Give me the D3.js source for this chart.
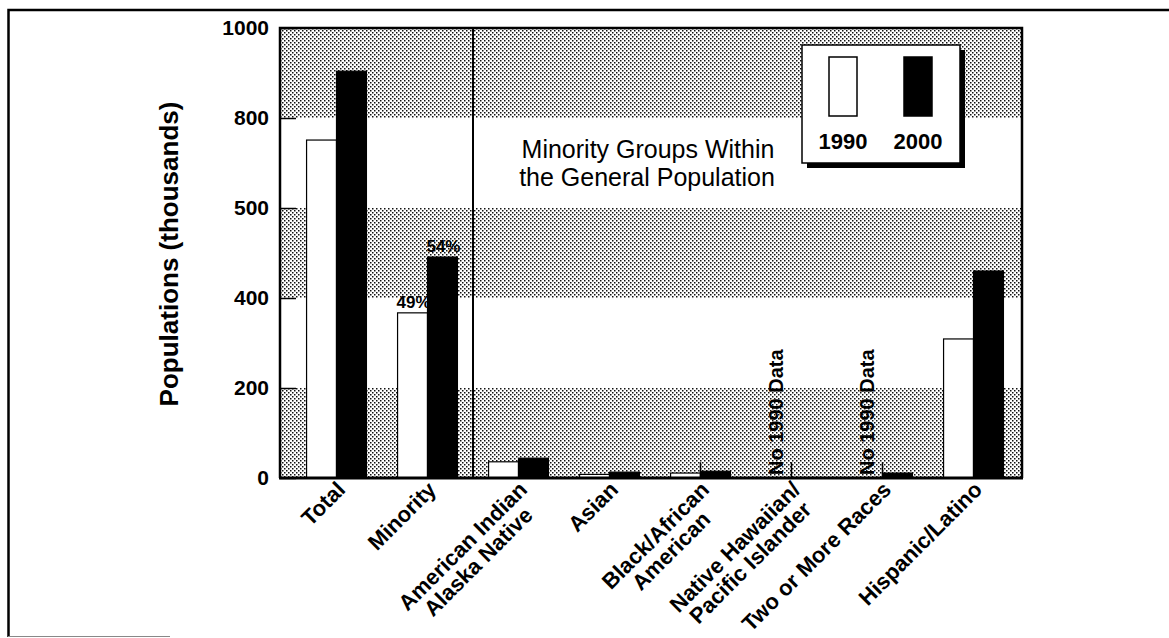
<!DOCTYPE html>
<html>
<head>
<meta charset="utf-8">
<script src="https://cdn.jsdelivr.net/npm/d3@7"></script>
<style>
  body { margin: 0; background: #fff; }
  text { font-family: "Liberation Sans", Arial, Helvetica, sans-serif; }
</style>
</head>
<body>
<div id="chart-area"></div>
<script>
// data (thousands)
const categories = ["Total", "Minority", "American Indian Alaska Native", "Asian",
  "Black/African American", "Native Hawaiian/Pacific Islander", "Two or More Races", "Hispanic/Latino"];
const categoryLines = [["Total"], ["Minority"], ["American Indian", "Alaska Native"], ["Asian"],
  ["Black/African", "American"], ["Native Hawaiian/", "Pacific Islander"], ["Two or More Races"], ["Hispanic/Latino"]];
const seriesNames = ["1990", "2000"];
const values1990 = [751, 367, 36, 8, 11, null, null, 309];
const values2000 = [904, 491, 44, 13, 15, 1, 11, 460];
const yTicks = [0, 200, 400, 600, 800, 1000];
const yTickLabels = ["0", "200", "400", "500", "800", "1000"];
const shadedBands = [[0, 200], [400, 600], [800, 1000]];
const pctLabels = [{ cat: "Minority", series: "1990", text: "49%" }, { cat: "Minority", series: "2000", text: "54%" }];
const noDataCats = ["Native Hawaiian/Pacific Islander", "Two or More Races"];
const markerCats = ["Black/African American", "Native Hawaiian/Pacific Islander", "Two or More Races"];
const markerValue = 35;

const W = 1169, H = 638;
const MARGIN = { LEFT: 280, TOP: 28, RIGHT: 147, BOTTOM: 160 };
const WIDTH = W - MARGIN.LEFT - MARGIN.RIGHT;
const HEIGHT = H - MARGIN.TOP - MARGIN.BOTTOM;

const rows = categories.map((c, i) => ({ k: c, lines: categoryLines[i], v: { "1990": values1990[i], "2000": values2000[i] } }));

const svg = d3.select("#chart-area").append("svg")
  .attr("width", W).attr("height", H);

// halftone dot pattern for the shaded bands
const pat = svg.append("defs").append("pattern")
  .attr("id", "dots").attr("patternUnits", "userSpaceOnUse")
  .attr("width", 4).attr("height", 4);
pat.append("rect").attr("width", 4).attr("height", 4).attr("fill", "#fff");
pat.append("rect").attr("x", 0).attr("y", 0).attr("width", 1.5).attr("height", 1.5).attr("fill", "#111");
pat.append("rect").attr("x", 2).attr("y", 2).attr("width", 1.5).attr("height", 1.5).attr("fill", "#111");

// page frame
svg.append("path")
  .attr("d", `M8.5,637 V10 H${W}`)
  .attr("fill", "none").attr("stroke", "#000").attr("stroke-width", 2.5);
svg.append("line")
  .attr("x1", 8).attr("x2", 170).attr("y1", 636.5).attr("y2", 636.5)
  .attr("stroke", "#888").attr("stroke-width", 1);

const g = svg.append("g").attr("transform", `translate(${MARGIN.LEFT}, ${MARGIN.TOP})`);

const y = d3.scaleLinear().domain([0, 1000]).range([HEIGHT, 0]);
const x = d3.scaleBand().domain(categories).range([11, 739]).paddingInner(0).paddingOuter(0);
const x1 = d3.scaleBand().domain(seriesNames).range([0, x.bandwidth()]).paddingInner(0).paddingOuter(0.52);
const fills = { "1990": "#fff", "2000": "#000" };

// shaded bands
g.selectAll("rect.band").data(shadedBands).enter().append("rect")
  .attr("class", "band")
  .attr("x", 0).attr("width", WIDTH)
  .attr("y", d => y(d[1])).attr("height", d => y(d[0]) - y(d[1]))
  .attr("fill", "url(#dots)");

// y axis with inward ticks
const yAxis = g.append("g").attr("class", "y-axis")
  .call(d3.axisLeft(y).tickValues(yTicks).tickFormat((d, i) => yTickLabels[i])
    .tickSizeInner(-16).tickSizeOuter(0).tickPadding(11));
yAxis.select(".domain").remove();
yAxis.selectAll(".tick line").attr("stroke", "#000").attr("stroke-width", 1.5);
yAxis.selectAll(".tick text")
  .attr("font-size", "21px").attr("font-weight", "bold").attr("fill", "#000");

// bars
const groups = g.selectAll("g.cat").data(rows).enter().append("g")
  .attr("class", "cat")
  .attr("transform", d => `translate(${x(d.k)},0)`);
groups.selectAll("rect").data(d => seriesNames.filter(s => d.v[s] != null).map(s => ({ s, v: d.v[s] })))
  .enter().append("rect")
  .attr("x", d => x1(d.s)).attr("width", x1.bandwidth())
  .attr("y", d => y(d.v)).attr("height", d => y(0) - y(d.v))
  .attr("fill", d => fills[d.s]).attr("stroke", "#000").attr("stroke-width", 1.2);

// small vertical markers
g.selectAll("line.marker").data(markerCats).enter().append("line")
  .attr("x1", d => x(d) + x.bandwidth() / 2).attr("x2", d => x(d) + x.bandwidth() / 2)
  .attr("y1", y(0)).attr("y2", y(markerValue))
  .attr("stroke", "#000").attr("stroke-width", 1.5);

// "No 1990 Data" notes
g.selectAll("text.nodata").data(noDataCats).enter().append("text")
  .attr("transform", d => `translate(${x(d) + x1("1990") + x1.bandwidth() * 0.7},${y(0) - 3}) rotate(-90)`)
  .attr("font-size", "20px").attr("font-weight", "bold")
  .text("No 1990 Data");

// percentage labels
g.selectAll("text.pct").data(pctLabels).enter().append("text")
  .attr("x", d => x(d.cat) + x1(d.series) + x1.bandwidth() / 2 + 1)
  .attr("y", d => y(rows.find(r => r.k === d.cat).v[d.series]) - 5)
  .attr("text-anchor", "middle").attr("font-size", "17px").attr("font-weight", "bold")
  .text(d => d.text);

// separator between totals and minority groups
g.append("line")
  .attr("x1", x(categories[2])).attr("x2", x(categories[2]))
  .attr("y1", 0).attr("y2", HEIGHT)
  .attr("stroke", "#000").attr("stroke-width", 2);

// plot frame
g.append("path")
  .attr("d", `M0,${HEIGHT} V0 H${WIDTH} V${HEIGHT}`)
  .attr("fill", "none").attr("stroke", "#000").attr("stroke-width", 2.5);
g.append("line")
  .attr("x1", -1).attr("x2", WIDTH + 1).attr("y1", HEIGHT).attr("y2", HEIGHT)
  .attr("stroke", "#000").attr("stroke-width", 3);

// x labels, rotated
const xl = g.selectAll("text.xlab").data(rows).enter().append("text")
  .attr("class", "xlab")
  .attr("transform", d => `translate(${x(d.k) + x.bandwidth() / 2 + 10},${HEIGHT + 13}) rotate(-45)`)
  .attr("font-size", "22px").attr("font-weight", "bold");
xl.each(function (d) {
  const t = d3.select(this);
  const first = t.append("tspan").attr("x", 0).text(d.lines[0]);
  const w = first.node().getComputedTextLength();
  first.attr("x", -w / 2).attr("text-anchor", "middle");
  d.lines.slice(1).forEach(line => {
    t.append("tspan").attr("x", -w / 2).attr("dy", "1.0em").attr("text-anchor", "middle").text(line);
  });
});

// y label
g.append("text")
  .attr("transform", `translate(${178 - MARGIN.LEFT},${HEIGHT / 2 + 1}) rotate(-90)`)
  .attr("text-anchor", "middle").attr("font-size", "26px").attr("font-weight", "bold")
  .text("Populations (thousands)");

// annotation
const note = g.append("text").attr("text-anchor", "middle").attr("font-size", "25px");
note.append("tspan").attr("x", 648 - MARGIN.LEFT).attr("y", 158 - MARGIN.TOP).text("Minority Groups Within");
note.append("tspan").attr("x", 647 - MARGIN.LEFT).attr("y", 186 - MARGIN.TOP).text("the General Population");

// legend with drop shadow
const lg = svg.append("g").attr("transform", "translate(802,45)");
lg.append("rect").attr("x", 5).attr("y", 5).attr("width", 158).attr("height", 118).attr("fill", "#000");
lg.append("rect").attr("width", 158).attr("height", 118).attr("fill", "#fff")
  .attr("stroke", "#000").attr("stroke-width", 1.5);
const lx = d3.scalePoint().domain(seriesNames).range([41, 116]);
lg.selectAll("rect.sw").data(seriesNames).enter().append("rect")
  .attr("x", d => lx(d) - 14).attr("y", 12).attr("width", 28).attr("height", 59)
  .attr("fill", d => fills[d]).attr("stroke", "#000").attr("stroke-width", 1.5);
lg.selectAll("text.lt").data(seriesNames).enter().append("text")
  .attr("x", d => lx(d)).attr("y", 104)
  .attr("text-anchor", "middle").attr("font-size", "22px").attr("font-weight", "bold")
  .text(d => d);
</script>
</body>
</html>
